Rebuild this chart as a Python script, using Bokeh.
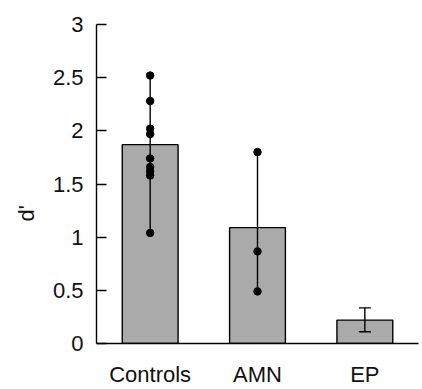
import math
from bokeh.plotting import figure
from bokeh.models import ColumnDataSource, FactorRange, Range1d, Whisker, TeeHead, Title, FixedTicker
from bokeh.embed import file_html
from bokeh.resources import INLINE

groups = ["Controls", "AMN", "EP"]
means = [1.87, 1.09, 0.22]
control_pts = [2.52, 2.28, 2.02, 1.97, 1.74, 1.66, 1.62, 1.58, 1.04]
amn_pts = [1.80, 0.866, 0.49]
ep_err_low = [0.11]
ep_err_high = [0.335]
y_ticks = [0, 0.5, 1, 1.5, 2, 2.5, 3]

FONT = "Liberation Sans"

p = figure(x_range=FactorRange(*groups, range_padding=0), y_range=Range1d(0, 3),
           width=420, height=389, output_backend="svg", toolbar_location=None,
           min_border_left=95, min_border_right=2, min_border_top=24, min_border_bottom=43)
p.outline_line_color = None
p.grid.visible = False
p.background_fill_color = "white"

p.vbar(x=groups, top=means, width=0.52, fill_color="#aaaaaa",
       line_color="black", line_width=1.4)

# range lines + points
p.segment(x0=["Controls"], y0=[min(control_pts)], x1=["Controls"], y1=[max(control_pts)],
          line_color="black", line_width=1.4)
p.segment(x0=["AMN"], y0=[min(amn_pts)], x1=["AMN"], y1=[max(amn_pts)],
          line_color="black", line_width=1.4)
p.scatter(x=["Controls"] * len(control_pts), y=control_pts, size=7.5,
          fill_color="black", line_color="black")
p.scatter(x=["AMN"] * len(amn_pts), y=amn_pts, size=7.5,
          fill_color="black", line_color="black")

ep_src = ColumnDataSource(dict(base=["EP"], lower=ep_err_low, upper=ep_err_high))
w = Whisker(source=ep_src, base="base", lower="lower", upper="upper",
            line_color="black", line_width=1.4, level="overlay",
            upper_head=TeeHead(size=12, line_color="black", line_width=1.4),
            lower_head=TeeHead(size=12, line_color="black", line_width=1.4))
p.add_layout(w)

# axes
p.yaxis.ticker = FixedTicker(ticks=y_ticks)
p.yaxis.major_label_overrides = {0: "0", 0.5: "0.5", 1: "1", 1.5: "1.5", 2: "2", 2.5: "2.5", 3: "3"}
p.yaxis.major_tick_in = 10
p.yaxis.major_tick_out = 0
p.yaxis.minor_tick_line_color = None
p.yaxis.major_label_standoff = 13
p.yaxis.major_label_text_font = FONT
p.yaxis.major_label_text_font_size = "22px"
p.yaxis.major_label_text_color = "#111111"
p.yaxis.axis_line_width = 1.4
p.yaxis.major_tick_line_width = 1.4

p.xaxis.major_tick_line_color = None
p.xaxis.minor_tick_line_color = None
p.xaxis.major_label_standoff = 12
p.xaxis.major_label_text_font = FONT
p.xaxis.major_label_text_font_size = "22px"
p.xaxis.major_label_text_color = "#111111"
p.xaxis.axis_line_width = 1.4

ylab = Title(text="d'", align="left", offset=122, standoff=22, text_font=FONT,
             text_font_size="22px", text_font_style="normal", text_color="#111111")
p.add_layout(ylab, "left")

open("out.html", "w").write(file_html(p, INLINE))
